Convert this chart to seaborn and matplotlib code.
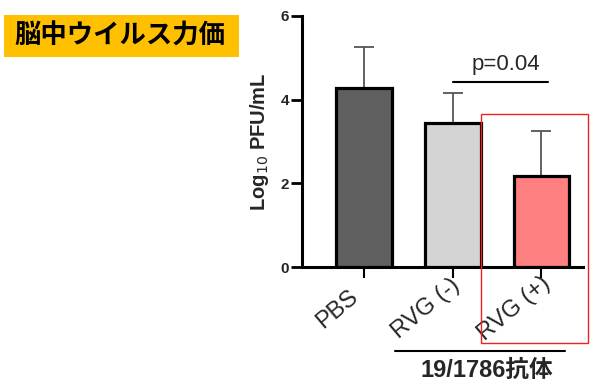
import matplotlib
matplotlib.use("Agg")
import matplotlib.pyplot as plt
import seaborn as sns
import pandas as pd
from matplotlib.patches import Rectangle
from matplotlib.lines import Line2D

categories = ["PBS", "RVG (-)", "RVG (+)"]
means = [4.28, 3.43, 2.18]
sd_upper = [0.98, 0.73, 1.07]
bar_colors = ["#5f5f5f", "#d4d4d4", "#ff8080"]
y_ticks = [0, 2, 4, 6]
title_text = "脳中ウイルス力価"
p_text = "p=0.04"
group_text = "19/1786抗体"

sns.set_theme(style="ticks")
plt.rcParams['font.family'] = ['Liberation Sans', 'Noto Sans CJK JP', 'DejaVu Sans']

df = pd.DataFrame({"group": categories, "value": means})

fig = plt.figure(figsize=(6.0, 3.87), dpi=100)
ax = fig.add_axes([0.503, 0.310, 0.469, 0.649])

sns.barplot(data=df, x="group", y="value", hue="group", palette=bar_colors,
            order=categories, hue_order=categories, width=0.63, saturation=1,
            edgecolor="black", linewidth=2.3, errorbar=None, legend=False, ax=ax, zorder=3)
ax.errorbar(range(len(categories)), means, yerr=[[0]*len(means), sd_upper], fmt="none",
            ecolor="#555555", elinewidth=1.3, capsize=7, capthick=1.3, zorder=2)

ax.set_ylim(0, 6)
ax.set_xlim(-0.70, 2.47)
ax.set_yticks(y_ticks)
ax.set_yticklabels([str(t) for t in y_ticks], fontweight="bold", fontsize=11)
ax.set_xticks(range(len(categories)))
ax.set_xticklabels([""] * len(categories))
# rotated category labels, placed at each category position
for i, cat in enumerate(categories):
    ax.annotate(cat, xy=(i, 0), xycoords=ax.get_xaxis_transform(),
                xytext=(-27, -42), textcoords="offset pixels",
                ha="center", va="center", rotation=40, rotation_mode="anchor",
                fontsize=17, annotation_clip=False)
ax.tick_params(axis="x", length=8, width=1.5, color="black", pad=0)
ax.tick_params(axis="y", length=8, width=2, color="black", pad=1)
ax.set_xlabel("")
ax.set_ylabel("Log$_{10}$ PFU/mL", fontweight="bold", fontsize=14.5, labelpad=7)
for s in ["left", "bottom"]:
    ax.spines[s].set_linewidth(2.2)
    ax.spines[s].set_color("black")
sns.despine(ax=ax)

# p-value bracket
ax.plot([1.0, 2.07], [4.43, 4.43], color="black", lw=1.5, clip_on=False)
ax.text(1.6, 4.58, p_text, ha="center", va="bottom", fontsize=16)

# red highlight box (figure coords)
fig.add_artist(Rectangle((481/600, 1-343/387), (588-481)/600, (343-114)/387,
                         transform=fig.transFigure, fill=False, edgecolor="#ee2222", lw=1.0))

# group line and label
fig.add_artist(Line2D([395/600, 565/600], [1-351/387, 1-351/387], transform=fig.transFigure,
                      color="black", lw=1.5))
fig.text(487/600, 1-370/387, group_text, ha="center", va="center", fontsize=17, fontweight="bold")

# title box
fig.add_artist(Rectangle((4/600, 1-57/387), 235/600, 42/387, transform=fig.transFigure,
                         facecolor="#ffc000", edgecolor="none"))
fig.text(120/600, 1-36/387, title_text, ha="center", va="center", fontsize=19, color="black",
         family=['Noto Sans CJK JP', 'DejaVu Sans'], fontweight="bold")

fig.savefig("out.png", dpi=100)
